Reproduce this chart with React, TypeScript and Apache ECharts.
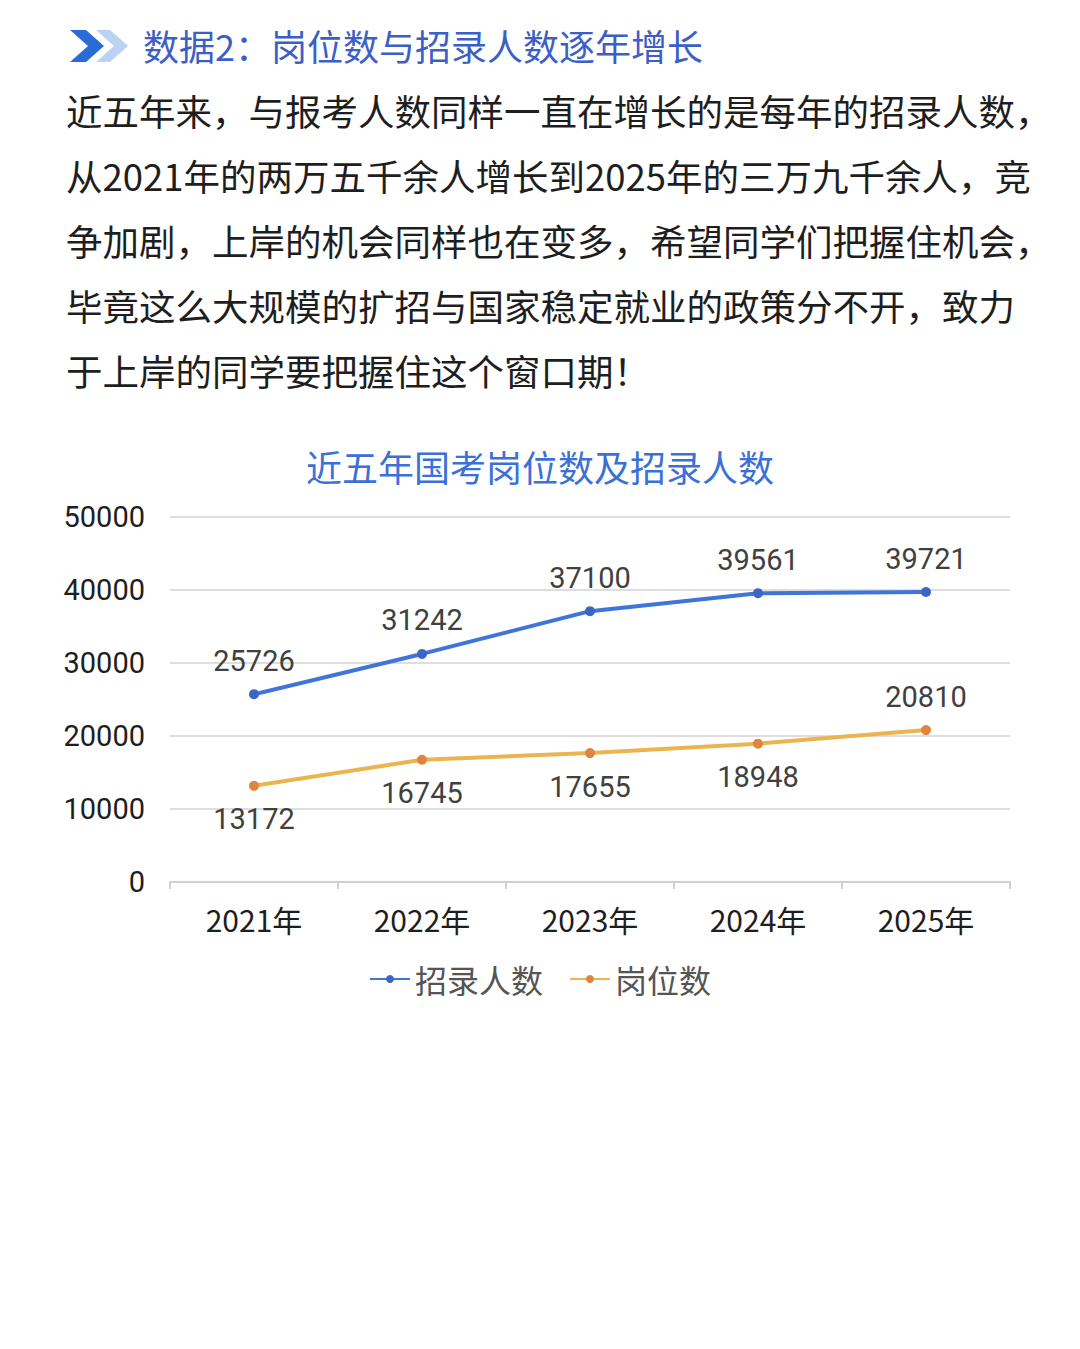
import React, { useEffect, useRef } from "react";
import * as echarts from "echarts";

const categories = ["2021年", "2022年", "2023年", "2024年", "2025年"];
const hires = [25726, 31242, 37100, 39561, 39721];
const posts = [13172, 16745, 17655, 18948, 20810];
const postLabelPos = ["bottom", "bottom", "bottom", "bottom", "top"];
const yTicks = [0, 10000, 20000, 30000, 40000, 50000];

const headerTitle = "数据2：岗位数与招录人数逐年增长";
const paragraph = [
  "近五年来，与报考人数同样一直在增长的是每年的招录人数，",
  "从2021年的两万五千余人增长到2025年的三万九千余人，竞",
  "争加剧，上岸的机会同样也在变多，希望同学们把握住机会，",
  "毕竟这么大规模的扩招与国家稳定就业的政策分不开，致力",
  "于上岸的同学要把握住这个窗口期！",
];
const chartTitle = "近五年国考岗位数及招录人数";

const FONT = "'Noto Sans CJK SC', 'Noto Sans', sans-serif";
const NUMFONT = "Roboto, 'Noto Sans', sans-serif";

export default function App() {
  const ref = useRef<HTMLDivElement>(null);
  useEffect(() => {
    if (!ref.current) return;
    const chart = echarts.init(ref.current, null, { renderer: "svg" });
    const graphics: any[] = [
      {
        type: "polygon",
        shape: { points: [[96, 30], [110, 30], [128, 46], [110, 62], [96, 62], [114, 46]] },
        style: { fill: "#bcd2f4" },
      },
      {
        type: "polygon",
        shape: { points: [[70, 30], [86, 30], [104, 46], [86, 62], [70, 62], [88, 46]] },
        style: { fill: "#2a6bd8" },
      },
      {
        type: "text",
        x: 143,
        y: 45,
        style: {
          text: headerTitle,
          font: `400 36px ${FONT}`,
          fill: "#3b5fc6",
          verticalAlign: "middle",
        },
      },
    ];
    paragraph.forEach((line, i) => {
      graphics.push({
        type: "text",
        x: 66,
        y: 110 + i * 65,
        style: {
          text: line,
          font: `400 36.5px ${FONT}`,
          fill: "#1e1e1e",
          verticalAlign: "middle",
        },
      });
    });

    chart.setOption({
      animation: false,
      backgroundColor: "#ffffff",
      textStyle: { fontFamily: FONT },
      title: {
        text: chartTitle,
        left: "center",
        top: 443,
        textStyle: { fontSize: 36, fontWeight: 400, color: "#3b70d8", fontFamily: FONT },
      },
      graphic: graphics,
      grid: { left: 170, right: 70, top: 517, bottom: 467, containLabel: false },
      legend: {
        data: ["招录人数", "岗位数"],
        left: "center",
        top: 958,
        itemWidth: 40,
        itemHeight: 10,
        itemGap: 26,
        textStyle: { fontSize: 32, color: "#555555", fontFamily: FONT },
      },
      xAxis: {
        type: "category",
        data: categories,
        boundaryGap: true,
        axisLine: { lineStyle: { color: "#d0d0d0", width: 2 } },
        axisTick: { show: true, length: 7, lineStyle: { color: "#d0d0d0", width: 2 } },
        axisLabel: { fontSize: 30, color: "#1e1e1e", margin: 22, fontFamily: FONT },
      },
      yAxis: {
        type: "value",
        min: yTicks[0],
        max: yTicks[yTicks.length - 1],
        interval: 10000,
        axisLine: { show: false },
        axisTick: { show: false },
        splitLine: { lineStyle: { color: "#dedede", width: 2 } },
        axisLabel: {
          fontSize: 29,
          color: "#1e1e1e",
          margin: 25,
          fontFamily: NUMFONT,
          formatter: (v: number) => String(v),
        },
      },
      series: [
        {
          name: "招录人数",
          type: "line",
          data: hires,
          symbol: "circle",
          symbolSize: 10,
          lineStyle: { color: "#3f74d8", width: 4 },
          itemStyle: { color: "#3c66c6" },
          label: {
            show: true,
            position: "top",
            distance: 14,
            fontSize: 29,
            color: "#404040",
            fontFamily: NUMFONT,
          },
        },
        {
          name: "岗位数",
          type: "line",
          data: posts.map((v, i) => ({
            value: v,
            label: { position: postLabelPos[i] },
          })),
          symbol: "circle",
          symbolSize: 10,
          lineStyle: { color: "#eab44e", width: 4 },
          itemStyle: { color: "#e28441" },
          label: {
            show: true,
            distance: 14,
            fontSize: 29,
            color: "#404040",
            fontFamily: NUMFONT,
          },
        },
      ],
    });
    return () => chart.dispose();
  }, []);
  return (
    <div
      ref={ref}
      style={{ position: "fixed", left: 0, top: 0, width: 1080, height: 1349, background: "#fff" }}
    />
  );
}
